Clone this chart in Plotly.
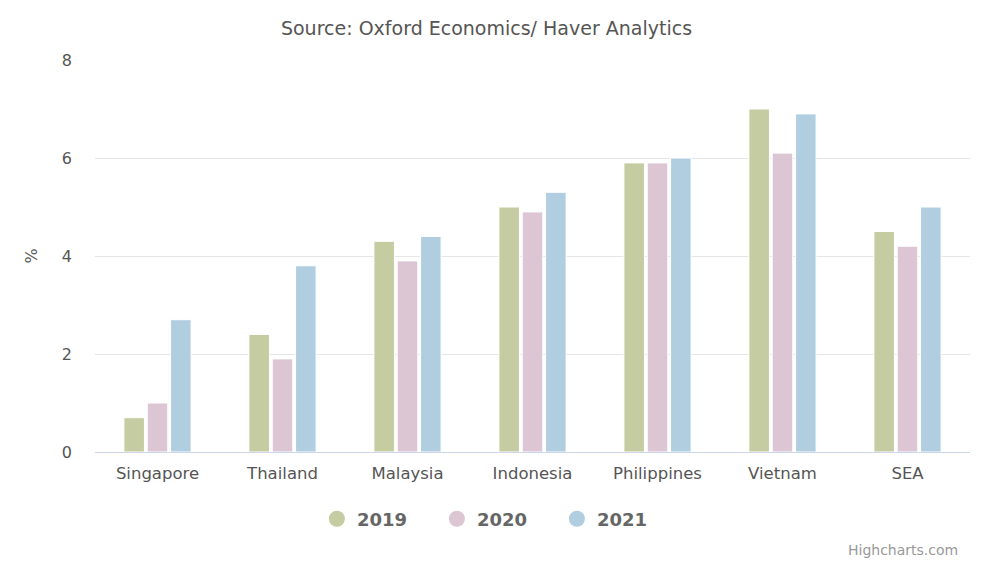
import plotly.graph_objects as go

# Data
countries = ['Singapore', 'Thailand', 'Malaysia', 'Indonesia', 'Philippines', 'Vietnam', 'SEA']
years = ['2019', '2020', '2021']
values_2019 = [0.7, 2.4, 4.3, 5.0, 5.9, 7.0, 4.5]
values_2020 = [1.0, 1.9, 3.9, 4.9, 5.9, 6.1, 4.2]
values_2021 = [2.7, 3.8, 4.4, 5.3, 6.0, 6.9, 5.0]
y_ticks = [0, 2, 4, 6, 8]

colors = ['#c5cca2', '#dcc6d3', '#b0cee0']
series = [values_2019, values_2020, values_2021]

fig = go.Figure()

for year, vals, color in zip(years, series, colors):
    fig.add_trace(go.Bar(
        x=countries,
        y=vals,
        name=year,
        legendgroup=year,
        showlegend=False,
        marker=dict(color=color, line=dict(color='white', width=1)),
        hovertemplate='%{x}<br>' + year + ': %{y}%<extra></extra>'
    ))

# circle symbols for the legend, like the Highcharts legend
for year, color in zip(years, colors):
    fig.add_trace(go.Scatter(
        x=[None], y=[None], mode='markers', name=year, legendgroup=year,
        marker=dict(symbol='circle', size=17, color=color)
    ))

font_family = 'DejaVu Sans, Verdana, sans-serif'

fig.update_layout(
    width=1000,
    height=562,
    barmode='group',
    bargap=0.44,
    bargroupgap=0.12,
    plot_bgcolor='white',
    paper_bgcolor='white',
    font=dict(family=font_family, color='#555555'),
    margin=dict(l=87, r=38, t=52, b=118, autoexpand=False),
    title=dict(
        text='Source: Oxford Economics/ Haver Analytics',
        x=0.4785, xanchor='center', y=1 - 20 / 562, yanchor='middle',
        font=dict(size=19, color='#555555')
    ),
    showlegend=True,
    legend=dict(
        orientation='h', x=0.2536, xanchor='left', y=-0.171, yanchor='middle',
        font=dict(size=18, color='#666666', weight='bold'),
        traceorder='normal', itemwidth=30,
        entrywidth=75, entrywidthmode='pixels'
    ),
    xaxis=dict(
        showgrid=False,
        showline=True, linecolor='#ccd6eb', linewidth=1,
        ticks='', tickfont=dict(size=16.5, color='#555555'),
        ticklabelstandoff=6,
        fixedrange=True
    ),
    yaxis=dict(
        range=[0, 8],
        tickvals=y_ticks,
        showgrid=True, gridcolor='#e6e6e6', gridwidth=1,
        zeroline=False,
        tickfont=dict(size=16, color='#555555'),
        ticklabelstandoff=22,
        title=dict(text='%', font=dict(size=16, color='#555555'), standoff=20),
        fixedrange=True
    ),
    annotations=[dict(
        text='Highcharts.com', xref='paper', yref='paper',
        x=0.9886, y=-0.25, xanchor='right', yanchor='middle',
        showarrow=False, font=dict(size=14, color='#999999')
    )]
)

fig.write_html('out.html')
